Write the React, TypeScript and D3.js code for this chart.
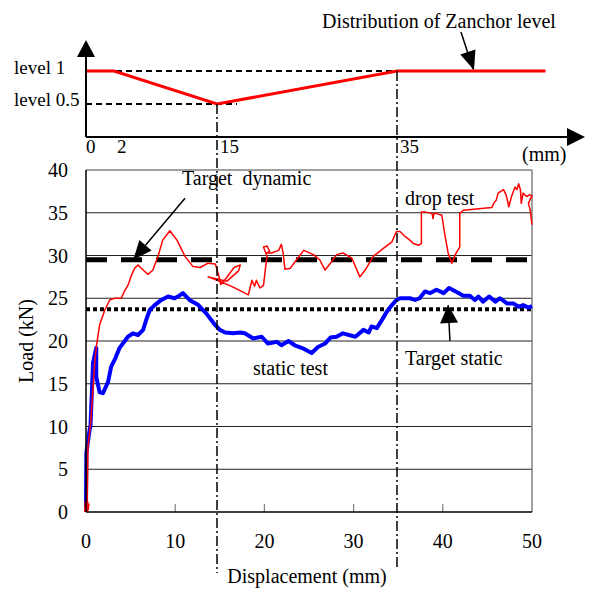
import React from "react";
import * as d3 from "d3";

const width = 589;
const height = 590;
const font = "'Liberation Serif', 'Times New Roman', serif";

// main chart frame (Load vs displacement)
const plot = { left: 86, right: 532, top: 170, bottom: 512 };

// top schematic: Zanchor level along the displacement
const zanchorX = [0, 2, 15, 35, 51.5];
const zanchorLevel = [1, 1, 0.5, 1, 1];
const zanchorTicks = [0, 2, 15, 35];
const levelLabels = ["level 1", "level 0.5"];
const levelValues = [1, 0.5];

// main axes
const loadTicks = [0, 5, 10, 15, 20, 25, 30, 35, 40];
const dispTicks = [0, 10, 20, 30, 40, 50];
const targetDynamic = 29.5;
const targetStatic = 23.7;

// static test (displacement mm, load kN)
const staticTest: [number, number][] = [
  [0, 0.5], [0.04, 6.9], [0.4, 9.6], [0.5, 10.0], [0.67, 14.3], [0.78, 17.4],
  [1.15, 19.2], [1.15, 15.8], [1.53, 14.0], [1.9, 13.9], [2.47, 15.2], [2.82, 17.0],
  [3.3, 18.0], [3.77, 19.2], [4.7, 20.5], [5.27, 20.9], [5.83, 20.7], [6.4, 21.3],
  [6.76, 22.5], [7.14, 23.6], [7.7, 24.2], [8.45, 24.8], [9.2, 25.2], [9.94, 25.0],
  [10.3, 25.2], [10.87, 25.6], [11.6, 24.8], [12.6, 24.2], [13.5, 23.2], [14.3, 22.1],
  [15.0, 21.3], [15.6, 21.0], [16.5, 20.9], [17.3, 21.0], [17.8, 20.9], [18.76, 20.3],
  [19.7, 20.5], [20.4, 19.7], [21.4, 19.9], [21.9, 19.5], [22.7, 20.0], [23.4, 19.5],
  [24.4, 19.1], [25.3, 18.6], [26.0, 19.3], [26.8, 19.7], [27.4, 20.4], [28.1, 20.5],
  [28.8, 20.9], [30.2, 20.5], [31.1, 21.3], [31.7, 21.0], [32.0, 21.7], [32.6, 21.5],
  [33.2, 22.5], [33.7, 23.4], [34.3, 24.2], [34.8, 24.8], [35.2, 25.0], [36.3, 25.0],
  [36.9, 24.8], [37.4, 25.0], [38.0, 25.8], [38.6, 25.6], [39.3, 26.0], [40.1, 25.6],
  [40.7, 26.2], [41.6, 25.7], [42.3, 25.3], [43.0, 25.3], [43.6, 24.8], [44.0, 25.2],
  [44.5, 24.6], [45.2, 25.2], [45.9, 24.6], [46.4, 25.0], [47.2, 24.4], [47.9, 24.4],
  [48.5, 24.0], [49.0, 24.2], [49.6, 23.9], [50.0, 24.1],
];

// drop test (displacement mm, load kN)
const dropTest: [number, number][] = [
  [0, 0], [0.05, 1.2], [0.1, 0.2], [0.18, 1.0], [0.12, 0.4], [0.22, 7.6],
  [0.52, 10.4], [0.78, 14.3], [0.97, 17.4], [1.16, 19.3], [1.53, 21.9], [2.1, 23.6],
  [2.65, 24.8], [3.2, 25.0], [3.96, 25.0], [4.3, 25.8], [4.7, 26.5], [5.1, 27.7],
  [5.45, 28.5], [5.83, 28.9], [6.4, 28.3], [6.95, 27.8], [7.5, 28.3], [8.07, 29.9],
  [8.6, 31.8], [9.4, 32.9], [10.2, 31.8], [11.1, 29.9], [12.0, 28.7], [12.8, 28.6],
  [13.7, 29.1], [14.5, 29.0], [14.9, 27.6], [15.1, 26.6], [15.6, 27.2], [16.6, 28.6],
  [17.3, 28.9], [17.1, 28.2], [15.8, 27.0], [13.7, 27.5], [15.2, 26.9], [16.5, 26.3],
  [18.2, 25.4], [18.6, 27.1], [18.9, 26.4], [19.1, 27.1], [19.5, 26.2], [19.9, 26.5],
  [20.1, 28.3], [20.3, 29.9], [19.9, 31.0], [20.3, 31.1], [20.6, 30.5], [20.3, 30.3],
  [20.8, 30.3], [21.6, 30.6], [21.9, 31.3], [22.1, 30.3], [22.3, 28.4], [22.9, 28.5],
  [23.6, 29.5], [24.4, 30.6], [25.5, 30.1], [26.2, 29.5], [26.8, 28.3], [27.4, 29.1],
  [28.1, 30.1], [28.8, 30.3], [29.8, 29.7], [30.7, 27.5], [31.3, 28.3], [32.2, 29.9],
  [33.3, 30.8], [34.3, 31.6], [34.8, 32.8], [35.2, 32.8], [35.8, 32.2], [36.3, 31.8],
  [36.7, 31.4], [37.3, 31.2], [37.6, 31.4], [37.6, 35.1], [38.0, 35.1], [38.8, 34.9],
  [38.9, 34.3], [39.0, 34.9], [39.3, 34.9], [39.9, 34.7], [40.2, 32.6], [40.6, 30.3],
  [41.0, 29.1], [41.4, 30.1], [41.9, 31.0], [41.9, 34.9], [42.3, 35.3], [45.5, 35.6],
  [45.7, 36.1], [46.0, 36.5], [46.2, 37.3], [46.8, 37.7], [47.1, 37.1], [47.4, 35.7],
  [47.7, 36.9], [48.1, 38.0], [48.3, 37.7], [48.5, 38.4], [48.7, 37.7], [48.8, 36.1],
  [49.0, 37.3], [49.4, 36.9], [49.7, 37.1], [50.0, 37.0], [49.6, 36.1], [49.8, 35.3],
  [50.0, 33.6],
];

const arrowHead = (x1: number, y1: number, x2: number, y2: number, len: number, half: number) => {
  const a = Math.atan2(y2 - y1, x2 - x1);
  const bx = x2 - len * Math.cos(a);
  const by = y2 - len * Math.sin(a);
  const nx = -Math.sin(a) * half;
  const ny = Math.cos(a) * half;
  return `${x2},${y2} ${bx + nx},${by + ny} ${bx - nx},${by - ny}`;
};

export default function App() {
  const x = d3.scaleLinear().domain([0, 50]).range([plot.left, plot.right]);
  const y = d3.scaleLinear().domain([0, 40]).range([plot.bottom, plot.top]);

  // the schematic is not drawn to the same scale as the chart below
  const xTop = d3.scaleLinear().domain([0, 2, 15, 35, 50]).range([86, 114, 217, 397, 532]);
  const yTop = d3.scaleLinear().domain([0, 1]).range([137, 71]);

  const line = d3.line<[number, number]>().x((d) => x(d[0])).y((d) => y(d[1]));
  const topLine = d3.line<number>().x((d) => xTop(d)).y((d, i) => yTop(zanchorLevel[i]));

  const dashDot = "10,3,2,3";

  const dynTail: [number, number] = [x(11.1), y(36.7)];
  const dynTip: [number, number] = [x(5.3), y(targetDynamic)];
  const stTail: [number, number] = [x(40.8), y(20.0)];
  const stTip: [number, number] = [x(40.6), y(24.2)];

  return (
    <svg width={width} height={height} style={{ position: "absolute", left: 0, top: 0, background: "#fff" }} fontFamily={font}>
      {/* ---- top schematic ---- */}
      <text x={322} y={28} fontSize={20}>Distribution of Zanchor level</text>
      <line x1={461} y1={32} x2={473} y2={69} stroke="black" strokeWidth={1.5} />
      <polygon points={arrowHead(461, 32, 474, 70, 19, 8)} fill="black" />

      {levelValues.map((v, i) => (
        <g key={v}>
          <line
            x1={xTop(0)} x2={v === 1 ? xTop(35) : xTop(15) + 20}
            y1={yTop(v)} y2={yTop(v)}
            stroke="black" strokeWidth={1.8} strokeDasharray="6,4"
          />
          <text x={14} y={yTop(v) + 3 - (v === 1 ? 0 : 1)} fontSize={19}>{levelLabels[i]}</text>
        </g>
      ))}
      <path d={topLine(zanchorX) ?? ""} fill="none" stroke="#ff0000" strokeWidth={3} />

      <line x1={xTop(0)} y1={yTop(0)} x2={xTop(0)} y2={54} stroke="black" strokeWidth={2} />
      <polygon points={`86,40 77,57 95,57`} fill="black" />
      <line x1={xTop(0)} y1={yTop(0)} x2={570} y2={yTop(0)} stroke="black" strokeWidth={2} />
      <polygon points={`585,137 567,128 567,146`} fill="black" />
      {zanchorTicks.map((t) => (
        <text key={t} x={xTop(t) + (t === 0 ? 0 : 3)} y={153} fontSize={19}>{t}</text>
      ))}
      <text x={522} y={161} fontSize={20}>(mm)</text>

      {/* ---- main chart ---- */}
      {loadTicks.filter((t) => t > 0 && t < 40).map((t) => (
        <line key={t} x1={plot.left} x2={plot.right} y1={y(t)} y2={y(t)} stroke="#222" strokeWidth={1} />
      ))}
      <line x1={plot.left} x2={plot.right} y1={y(40)} y2={y(40)} stroke="#808080" strokeWidth={1.5} />
      <line x1={plot.right} x2={plot.right} y1={y(40)} y2={y(0)} stroke="#808080" strokeWidth={1.5} />
      {dispTicks.filter((t) => t > 0 && t < 50).map((t) => (
        <line key={t} x1={x(t)} x2={x(t)} y1={y(0)} y2={y(0) - 8} stroke="#808080" strokeWidth={1.2} />
      ))}

      <line x1={plot.left} x2={plot.right} y1={y(targetDynamic)} y2={y(targetDynamic)} stroke="black" strokeWidth={5} strokeDasharray="21,14" />
      <line x1={plot.left} x2={plot.right} y1={y(targetStatic)} y2={y(targetStatic)} stroke="black" strokeWidth={4} strokeDasharray="4,3" />

      <path d={line(staticTest) ?? ""} fill="none" stroke="#0000ff" strokeWidth={4} strokeLinejoin="round" />
      <path d={line(dropTest) ?? ""} fill="none" stroke="#ff0000" strokeWidth={1.5} strokeLinejoin="round" />
      <path d={line(dropTest.slice(0, 5)) ?? ""} fill="none" stroke="#ff0000" strokeWidth={4} />

      <line x1={plot.left} x2={plot.left} y1={y(40)} y2={y(0)} stroke="black" strokeWidth={1.5} />
      <line x1={plot.left} x2={plot.right} y1={y(0)} y2={y(0)} stroke="black" strokeWidth={1.5} />

      <line x1={xTop(15)} x2={xTop(15)} y1={yTop(0.5)} y2={573} stroke="black" strokeWidth={1.5} strokeDasharray={dashDot} />
      <line x1={xTop(35)} x2={xTop(35)} y1={yTop(1)} y2={570} stroke="black" strokeWidth={1.5} strokeDasharray={dashDot} />

      {loadTicks.map((t) => (
        <text key={t} x={68} y={y(t) + 7} fontSize={20} textAnchor="end">{t}</text>
      ))}
      {dispTicks.map((t) => (
        <text key={t} x={x(t)} y={548} fontSize={20} textAnchor="middle">{t}</text>
      ))}
      <text x={307} y={583} fontSize={20} textAnchor="middle">Displacement (mm)</text>
      <text transform="translate(33,341) rotate(-90)" fontSize={20} textAnchor="middle">Load (kN)</text>

      <text x={x(10.76)} y={y(38.25)} fontSize={20} style={{ whiteSpace: "pre" }}>Target  dynamic</text>
      <line x1={dynTail[0]} y1={dynTail[1]} x2={dynTip[0]} y2={dynTip[1]} stroke="black" strokeWidth={1.5} />
      <polygon points={arrowHead(dynTail[0], dynTail[1], dynTip[0], dynTip[1], 19, 8)} fill="black" />

      <text x={x(35.76)} y={y(35.9)} fontSize={20}>drop test</text>
      <text x={x(18.72)} y={y(16.0)} fontSize={20}>static test</text>
      <text x={x(35.76)} y={y(17.2)} fontSize={20}>Target static</text>
      <line x1={stTail[0]} y1={stTail[1]} x2={stTip[0]} y2={stTip[1]} stroke="black" strokeWidth={1.5} />
      <polygon points={arrowHead(stTail[0], stTail[1], stTip[0], stTip[1], 18, 9)} fill="black" />
    </svg>
  );
}
